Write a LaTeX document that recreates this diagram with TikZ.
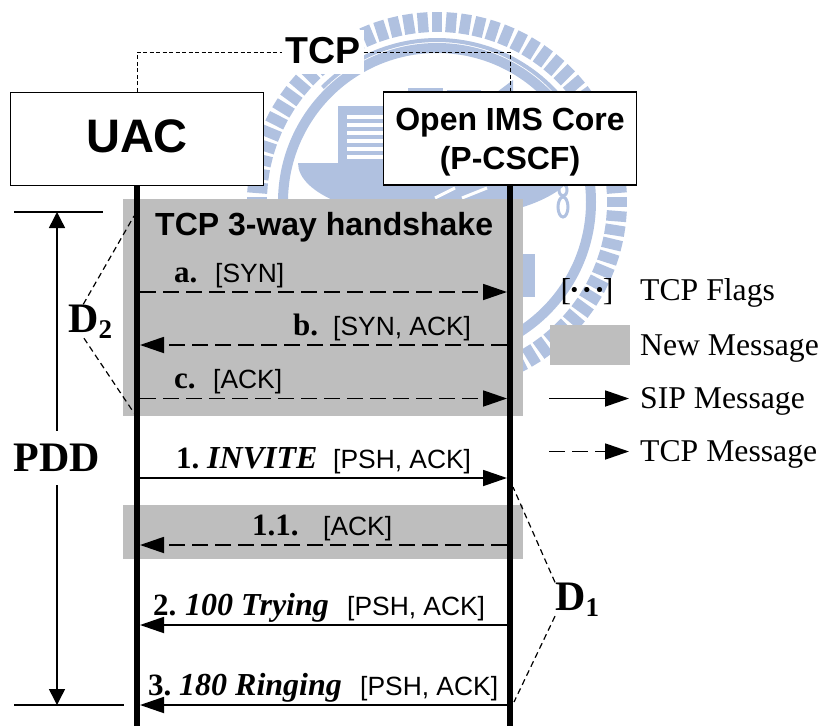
\documentclass[tikz,border=0pt]{standalone}
\usepackage{fontspec}
\setmainfont{Liberation Serif}
\setsansfont{Liberation Sans}
\usetikzlibrary{arrows.meta, positioning}
\definecolor{WmBlue}{HTML}{B0C1E0}
\definecolor{NewGray}{HTML}{BEBEBE}
\tikzset{
    % Entity boxes
    endpoint/.style={
        rectangle,
        draw=black,
        fill=white,
        line width=1pt,
        minimum width=253pt,
        minimum height=93pt,
        align=center,
        font=\sffamily\bfseries
    },
    newmsg/.style={
        rectangle,
        fill=NewGray,
        inner sep=0pt,
        minimum width=400pt
    },
    % Labels
    msgnum/.style={
        anchor=base west,
        inner sep=0pt,
        font=\fontsize{31}{36}\selectfont\bfseries
    },
    msgname/.style={
        anchor=base west,
        inner sep=0pt,
        font=\fontsize{32}{36}\selectfont\bfseries\itshape
    },
    flag/.style={
        anchor=base west,
        inner sep=0pt,
        font=\fontsize{26.4}{30}\selectfont\sffamily
    },
    legend/.style={
        anchor=base west,
        inner sep=0pt,
        font=\fontsize{31.7}{36}\selectfont
    },
    delay/.style={
        anchor=base west,
        inner sep=0pt,
        font=\fontsize{42}{46}\selectfont\bfseries
    },
    % Arrow styles
    siparrow/.style={
        -{Triangle[length=24pt,width=16pt]},
        line width=1.8pt,
        draw=black
    },
    tcparrow/.style={
        -{Triangle[length=24pt,width=16pt]},
        line width=1.8pt,
        draw=black,
        dash pattern=on 16pt off 7pt
    },
    timearrow/.style={
        -{Triangle[length=16pt,width=16pt]},
        line width=1.5pt,
        draw=black
    },
    lifeline/.style={
        line width=5.8pt,
        draw=black
    },
    guide/.style={
        line width=1.2pt,
        draw=black,
        dash pattern=on 6pt off 4pt
    },
    tcplink/.style={
        line width=0.7pt,
        draw=black,
        dash pattern=on 4pt off 2.5pt
    },
    wmtick/.style={
        line width=10.5pt,
        draw=WmBlue
    }
}
\newcommand{\dsub}[1]{\raisebox{-6pt}{\fontsize{27}{30}\selectfont #1}}
\begin{document}
\begin{tikzpicture}[x=1pt, y=-1pt]
    \useasboundingbox (0,0) rectangle (823,726);

    % Watermark
    \foreach \a in {0,4.5,...,359} {
        \draw[wmtick] (437,202) ++(\a:170) -- ++(\a:20);
    }
    \draw[WmBlue, line width=10pt] (437,202) circle [radius=154];
    \draw[WmBlue, line width=4pt] (437,202) ++(225:162) arc [start angle=225, end angle=318, radius=162];
    \fill[WmBlue] (298,163) arc [start angle=180, end angle=360, x radius=139, y radius=-56] -- cycle;
    \draw[white, line width=3pt] (435,198) -- (455,188);
    \draw[white, line width=3pt] (462,198) -- (487,188);
    \fill[WmBlue] (338,106) rectangle (400,163);
    \foreach \i in {0,...,5} {
        \fill[white] (347,{115+\i*8}) rectangle (400,{119+\i*8});
    }
    \fill[WmBlue] (408,88) rectangle (443,100);
    \fill[WmBlue] (447,90) rectangle (481,100);
    \fill[WmBlue] (497,92) -- (513,80) -- (513,100) -- cycle;
    \draw[WmBlue, line width=3pt] (563,207) ellipse [x radius=5, y radius=10];
    \draw[WmBlue, line width=3pt] (563,190) ellipse [x radius=4, y radius=6];
    \fill[WmBlue] (523,254) rectangle (535,297);

    % New message areas
    \node[newmsg, minimum height=217pt] (handshake) at (323,307.5) {};
    \node[newmsg, minimum height=54pt] (ackarea) at (323,532) {};

    % Entities
    \node[endpoint, text depth=5pt, font=\fontsize{47}{50}\selectfont\sffamily\bfseries] (uac) at (137,138.5) {UAC};
    \node[endpoint, line width=1.5pt, font=\fontsize{32}{39}\selectfont\sffamily\bfseries] (ims) at (510,138.5) {\rule{0pt}{29pt}Open IMS Core\\(P-CSCF)};
    \node[fill=white, inner sep=3pt, text depth=4pt, minimum height=44pt, font=\fontsize{37.5}{40}\selectfont\sffamily\bfseries] (tcp) at (323,52) {TCP};
    \draw[tcplink] (uac.north) |- (tcp.west);
    \draw[tcplink] (tcp.east) -| (ims.north);

    % Lifelines
    \coordinate (uacend) at (137,726);
    \coordinate (imsend) at (510,726);
    \draw[lifeline] (uac.south) -- (uacend);
    \draw[lifeline] (ims.south) -- (imsend);

    % Messages
    \foreach \m/\y in {a/292, b/345, c/398.5, one/478, oneone/545, two/625, three/705} {
        \coordinate (\m uac) at (140,\y);
        \coordinate (\m ims) at (507,\y);
    }
    \draw[tcparrow] (auac) -- (aims);
    \draw[tcparrow] (bims) -- (buac);
    \draw[tcparrow] (cuac) -- (cims);
    \draw[siparrow] (oneuac) -- (oneims);
    \draw[tcparrow] (oneoneims) -- (oneoneuac);
    \draw[siparrow] (twoims) -- (twouac);
    \draw[siparrow] (threeims) -- (threeuac);

    % Message labels
    \node[anchor=base west, inner sep=0pt, font=\fontsize{32}{36}\selectfont\sffamily\bfseries] (title) at (155,235) {TCP 3-way handshake};
    \node[msgnum] (numa) at (174,282) {a.};
    \node[flag] (flaga) at (215,282) {[SYN]};
    \node[msgnum] (numb) at (293,335) {b.};
    \node[flag] (flagb) at (333,335) {[SYN, ACK]};
    \node[msgnum] (numc) at (174,388) {c.};
    \node[flag] (flagc) at (213,388) {[ACK]};
    \node[msgnum] (numone) at (176,468) {1.};
    \node[msgname] (nameone) at (207,468) {INVITE};
    \node[flag] (flagone) at (333,468) {[PSH, ACK]};
    \node[msgnum] (numoneone) at (252,535) {1.1.};
    \node[flag] (flagoneone) at (323,535) {[ACK]};
    \node[msgnum] (numtwo) at (153,615) {2.};
    \node[msgname] (nametwo) at (185,615) {100 Trying};
    \node[flag] (flagtwo) at (347,615) {[PSH, ACK]};
    \node[msgnum] (numthree) at (148,695) {3.};
    \node[msgname] (namethree) at (179,695) {180 Ringing};
    \node[flag] (flagthree) at (360,695) {[PSH, ACK]};

    % PDD
    \coordinate (pddtopl) at (14,212);
    \coordinate (pddtopr) at (103,212);
    \coordinate (pddbotl) at (14,705);
    \coordinate (pddbotr) at (124,705);
    \coordinate (pddtop) at (57,212);
    \coordinate (pddbot) at (57,705);
    \draw[line width=1.5pt] (pddtopl) -- (pddtopr);
    \draw[line width=1.5pt] (pddbotl) -- (pddbotr);
    \node[font=\fontsize{42}{46}\selectfont\bfseries, inner sep=0pt, minimum height=54pt] (pdd) at (57,458) {PDD};
    \draw[timearrow] (pdd.north) -- (pddtop);
    \draw[timearrow] (pdd.south) -- (pddbot);

    % Delays
    \node[delay] (dtwo) at (68,332) {D\dsub{2}};
    \coordinate (dtwotop) at (134,216);
    \coordinate (dtwobot) at (134,413);
    \draw[guide] (dtwo.112) -- (dtwotop);
    \draw[guide] (dtwo.250) -- (dtwobot);
    \node[delay] (done) at (555,610) {D\dsub{1}};
    \coordinate (donetop) at (513,487);
    \coordinate (donebot) at (514,702);
    \draw[guide] (done.north west) -- (donetop);
    \draw[guide] (done.south west) -- (donebot);

    % Legend
    \node[legend, anchor=base] (flagsym) at (587,300) {[\hspace{-2pt}{\bfseries\textperiodcentered\hspace{2pt}\textperiodcentered\hspace{2pt}\textperiodcentered}\hspace{-2pt}]};
    \node[legend] (flagtxt) at (640,300) {TCP Flags};
    \node[newmsg, minimum width=80pt, minimum height=40pt] (newsym) at (590,345) {};
    \node[legend] (newtxt) at (640,355) {New Message};
    \coordinate (sipfrom) at (549,398.5);
    \coordinate (sipto) at (629,398.5);
    \draw[siparrow] (sipfrom) -- (sipto);
    \node[legend] (siptxt) at (640,408) {SIP Message};
    \coordinate (tcpfrom) at (549,451.5);
    \coordinate (tcpto) at (629,451.5);
    \draw[tcparrow] (tcpfrom) -- (tcpto);
    \node[legend] (tcptxt) at (640,461) {TCP Message};
\end{tikzpicture}
\end{document}
